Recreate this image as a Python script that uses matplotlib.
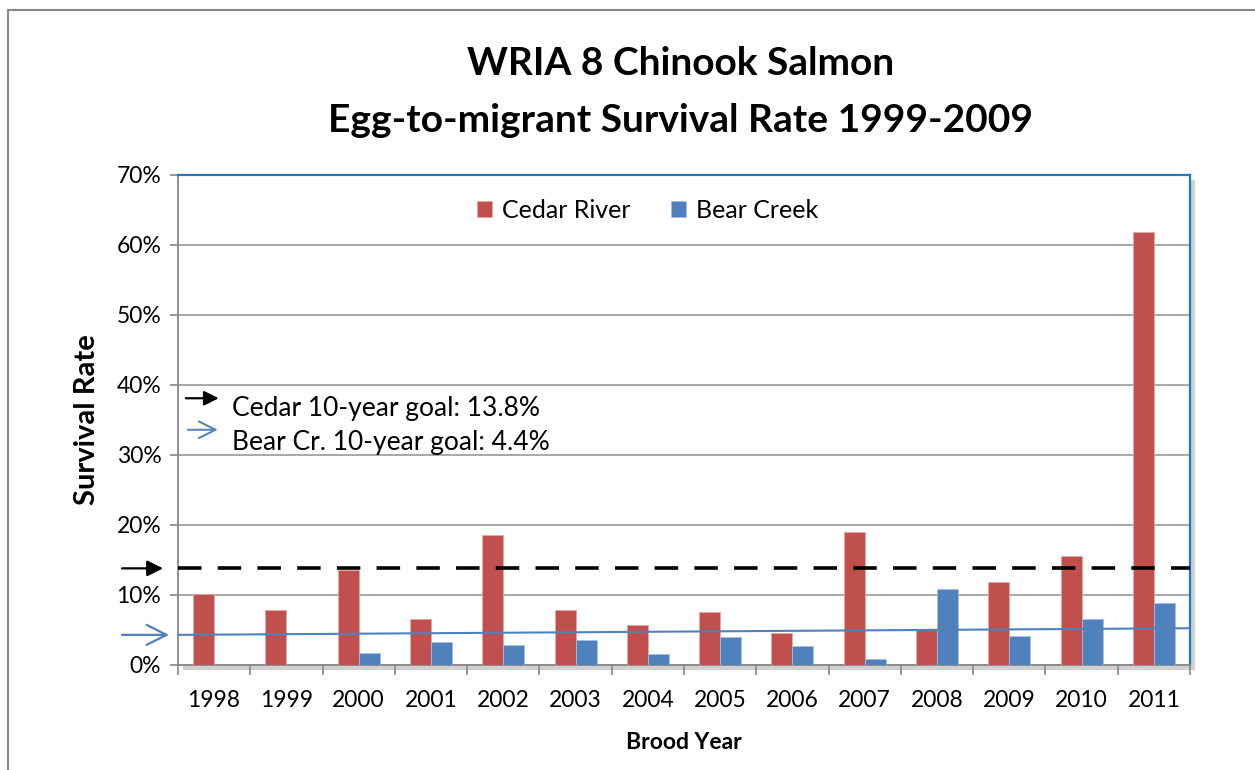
import numpy as np
import matplotlib
matplotlib.use('Agg')
import matplotlib.pyplot as plt
from matplotlib.patches import Rectangle
from matplotlib.ticker import FuncFormatter, FixedLocator

plt.rcParams['font.family'] = ['Lato', 'DejaVu Sans']

# data
years = ['1998', '1999', '2000', '2001', '2002', '2003', '2004',
         '2005', '2006', '2007', '2008', '2009', '2010', '2011']
cedar = [10.2, 7.9, 13.5, 6.6, 18.5, 7.9, 5.7, 7.6, 4.6, 19.0, 5.0, 11.8, 15.6, 61.8]
bear = [0, 0, 1.7, 3.3, 2.9, 3.5, 1.6, 4.0, 2.7, 0.9, 10.9, 4.2, 6.6, 8.9]
cedar_goal = 13.8
bear_goal = [4.3, 5.25]  # trend line start / end

red = '#C0504D'
blue = '#4F81BD'

fig = plt.figure(figsize=(12.55, 7.7), dpi=100)
ax = fig.add_axes([0.1418, 0.1364, 0.8064, 0.6364])

# outer chart border
fig.patches.append(Rectangle((8 / 1255, -0.1), 1.2, 1 - 10 / 770 + 0.1,
                             transform=fig.transFigure, fill=False,
                             edgecolor='#888888', lw=1.5))
# plot area shadow
fig.patches.append(Rectangle((0.1418 + 0.004, 0.1364 - 0.007), 0.8064, 0.6364,
                             transform=fig.transFigure, facecolor='#d0d0d0',
                             edgecolor='none', zorder=-1))
ax.set_facecolor('white')

x = np.arange(len(years))
w = 0.29
ax.bar(x - w / 2, cedar, w, color=red, edgecolor='#e8a8a6', lw=0.6,
       label='Cedar River', zorder=3)
ax.bar(x + w / 2, bear, w, color=blue, edgecolor='#a8c0e0', lw=0.6,
       label='Bear Creek', zorder=3)

ax.set_xlim(-0.5, len(years) - 0.5)
ax.set_ylim(0, 70)

# goal lines
ax.plot([-0.5, len(years) - 0.5], [cedar_goal, cedar_goal], color='black',
        lw=2.6, ls=(0, (6.5, 4.5)), zorder=4)
ax.plot([-0.5, len(years) - 0.5], bear_goal, color=blue, lw=1.5, zorder=4)

# arrows outside the axes pointing to the goal lines
tr = ax.get_yaxis_transform()
ax.annotate('', xy=(-0.012, cedar_goal), xytext=(-0.058, cedar_goal),
            xycoords=tr, textcoords=tr, annotation_clip=False,
            arrowprops=dict(arrowstyle='-|>', color='black', lw=1.6,
                            mutation_scale=24))
ax.annotate('', xy=(-0.006, bear_goal[0]), xytext=(-0.058, bear_goal[0]),
            xycoords=tr, textcoords=tr, annotation_clip=False,
            arrowprops=dict(arrowstyle='->', color=blue, lw=1.6,
                            mutation_scale=36))

# in-plot key for the goal lines
ax.annotate('', xy=(0.043, 38.1), xytext=(0.005, 38.1), xycoords=tr,
            textcoords=tr, arrowprops=dict(arrowstyle='-|>', color='black',
                                           lw=1.6, mutation_scale=22))
ax.annotate('', xy=(0.042, 33.6), xytext=(0.007, 33.6), xycoords=tr,
            textcoords=tr, arrowprops=dict(arrowstyle='->', color=blue,
                                           lw=1.4, mutation_scale=30))
ax.text(0.053, 36.7, 'Cedar 10-year goal: 13.8%', transform=tr,
        fontsize=19, va='center')
ax.text(0.053, 31.8, 'Bear Cr. 10-year goal: 4.4%', transform=tr,
        fontsize=19, va='center')

# axes styling
ax.yaxis.set_major_locator(FixedLocator(np.arange(0, 71, 10)))
ax.yaxis.set_major_formatter(FuncFormatter(lambda v, p: f'{int(v)}%'))
ax.grid(axis='y', color='#9a9a9a', lw=1.2, zorder=0)
ax.set_axisbelow(True)

ax.set_xticks(np.arange(-0.5, len(years), 1))
ax.set_xticklabels([])
ax.set_xticks(x, minor=True)
ax.set_xticklabels(years, minor=True, fontsize=16.5)
ax.tick_params(axis='x', which='major', length=7, width=1.2, color='#888888',
               direction='out')
ax.tick_params(axis='x', which='minor', length=0, pad=18)
ax.tick_params(axis='y', length=6, width=1.2, color='#888888', labelsize=16.5,
               pad=6)

for side in ['left', 'bottom']:
    ax.spines[side].set_color('#888888')
    ax.spines[side].set_linewidth(1.3)
for side in ['top', 'right']:
    ax.spines[side].set_color('#1f77c8')
    ax.spines[side].set_linewidth(1.6)

ax.set_ylabel('Survival Rate', fontsize=21, fontweight='bold', labelpad=12)
ax.set_xlabel('Brood Year', fontsize=16.5, fontweight='bold', labelpad=15)

ax.legend(loc='center', bbox_to_anchor=(0.464, 0.927), ncol=2, frameon=False,
          fontsize=18, handlelength=0.6, handleheight=0.6, columnspacing=1.6,
          handletextpad=0.4)

fig.text(0.542, 0.917, 'WRIA 8 Chinook Salmon', ha='center', va='center',
         fontsize=28, fontweight='bold')
fig.text(0.542, 0.844, 'Egg-to-migrant Survival Rate 1999-2009', ha='center',
         va='center', fontsize=28, fontweight='bold')

fig.savefig('out.png', dpi=100)
